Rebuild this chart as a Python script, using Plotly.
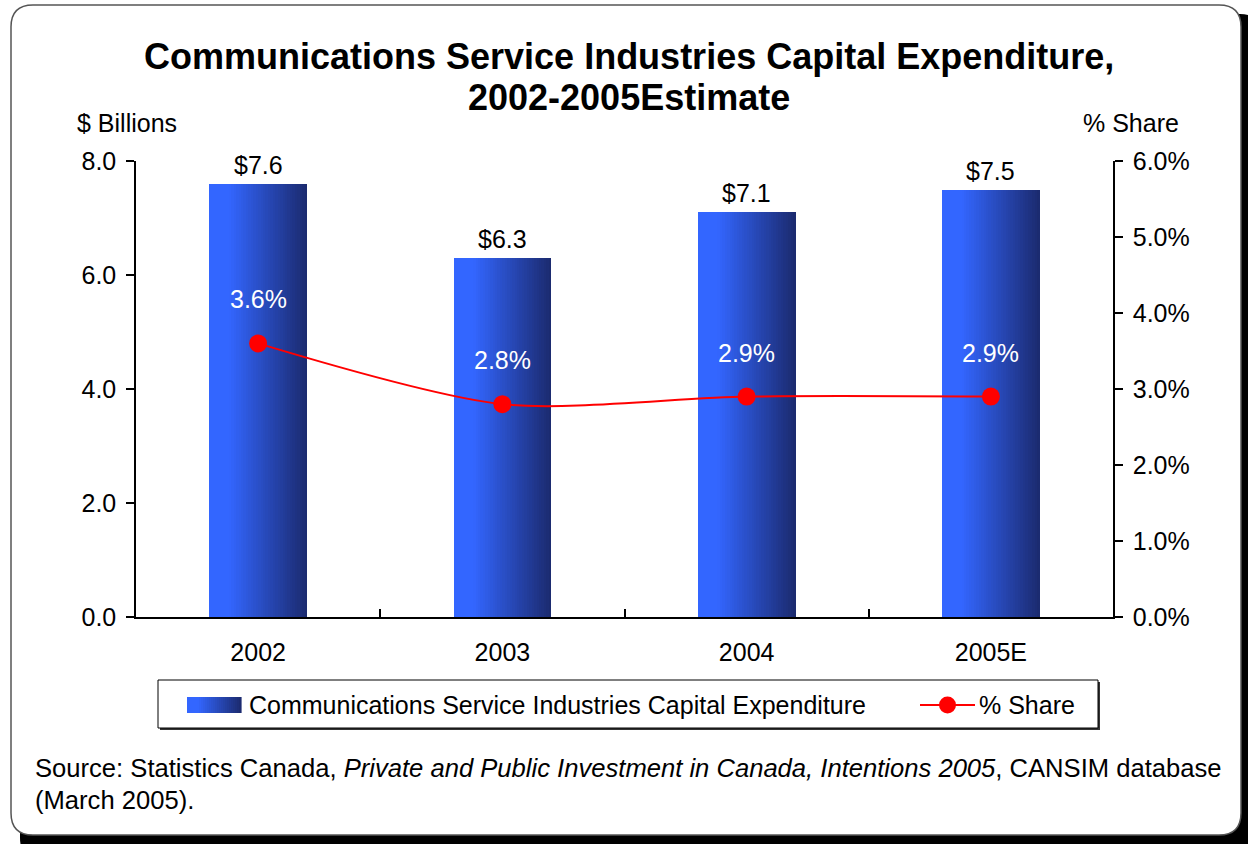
import plotly.graph_objects as go

# Chart data
years = ["2002", "2003", "2004", "2005E"]
capex_billions = [7.6, 6.3, 7.1, 7.5]
share_pct = [3.6, 2.8, 2.9, 2.9]

W, H = 1248, 844
FONT = "Arial, Liberation Sans, sans-serif"
FS = 25          # general text size
TITLE_FS = 36    # chart title size
NOTE_FS = 25.6   # source note size

# plot-area rectangle in pixels
PL, PR, PT, PB = 136, 1113, 161, 617


def px(x):
    return x / W


def py(y):
    return 1 - y / H


def rounded_rect(x0, y0, x1, y1, r):
    # SVG path in paper units (corners approximated with quadratic curves)
    pts = [
        f"M {px(x0 + r)} {py(y0)}",
        f"L {px(x1 - r)} {py(y0)}",
        f"Q {px(x1)} {py(y0)} {px(x1)} {py(y0 + r)}",
        f"L {px(x1)} {py(y1 - r)}",
        f"Q {px(x1)} {py(y1)} {px(x1 - r)} {py(y1)}",
        f"L {px(x0 + r)} {py(y1)}",
        f"Q {px(x0)} {py(y1)} {px(x0)} {py(y1 - r)}",
        f"L {px(x0)} {py(y0 + r)}",
        f"Q {px(x0)} {py(y0)} {px(x0 + r)} {py(y0)}",
        "Z",
    ]
    return " ".join(pts)


def lerp_color(c0, c1, t):
    return "rgb({},{},{})".format(*[round(a + (b - a) * t) for a, b in zip(c0, c1)])


LIGHT = (51, 102, 255)
DARK = (27, 42, 110)


def grad_t(f):
    # bright on the left fifth, then darkening towards the right edge
    return 0.0 if f < 0.2 else (f - 0.2) / 0.8


fig = go.Figure()

# Bars with a horizontal gradient, built from narrow vertical slices
BAR_W = 0.4
N_SLICES = 40
sw = BAR_W / N_SLICES
for i in range(N_SLICES):
    f = (i + 0.5) / N_SLICES
    fig.add_trace(go.Bar(
        x=years, y=capex_billions,
        width=sw * 1.08, offset=-BAR_W / 2 + i * sw,
        marker=dict(color=lerp_color(LIGHT, DARK, grad_t(f)), line=dict(width=0)),
        showlegend=False, hoverinfo="skip",
    ))

# % share line
fig.add_trace(go.Scatter(
    x=years, y=share_pct, yaxis="y2",
    mode="lines+markers",
    line=dict(color="#FF0000", width=2, shape="spline", smoothing=0.8),
    marker=dict(color="#FF0000", size=18),
    showlegend=False,
))

annotations = []
# value labels (category index used as x position)
for i, v in enumerate(capex_billions):
    annotations.append(dict(
        x=i, y=v, xref="x", yref="y", text=f"${v:.1f}", showarrow=False,
        yshift=19, font=dict(family=FONT, size=FS, color="black"),
    ))
for i, v in enumerate(share_pct):
    annotations.append(dict(
        x=i, y=v, xref="x", yref="y2", text=f"{v:.1f}%", showarrow=False,
        yshift=44, font=dict(family=FONT, size=FS, color="white"),
    ))

# title
annotations.append(dict(
    x=px(629), y=py(56), xref="paper", yref="paper", showarrow=False,
    text="<b>Communications Service Industries Capital Expenditure,</b>",
    font=dict(family=FONT, size=TITLE_FS, color="black"), xanchor="center", yanchor="middle",
))
annotations.append(dict(
    x=px(629), y=py(97), xref="paper", yref="paper", showarrow=False,
    text="<b>2002-2005Estimate</b>",
    font=dict(family=FONT, size=TITLE_FS, color="black"), xanchor="center", yanchor="middle",
))
# axis unit labels
annotations.append(dict(
    x=px(75), y=py(123), xref="paper", yref="paper", showarrow=False,
    text="$ Billions", font=dict(family=FONT, size=FS, color="black"),
    xanchor="left", yanchor="middle",
))
annotations.append(dict(
    x=px(1181), y=py(123), xref="paper", yref="paper", showarrow=False,
    text="% Share", font=dict(family=FONT, size=FS, color="black"),
    xanchor="right", yanchor="middle",
))
# source note
annotations.append(dict(
    x=px(33), y=py(768), xref="paper", yref="paper", showarrow=False,
    text="Source: Statistics Canada, <i>Private and Public Investment in Canada, Intentions 2005</i>, CANSIM database",
    font=dict(family=FONT, size=NOTE_FS, color="black"), xanchor="left", yanchor="middle",
))
annotations.append(dict(
    x=px(33), y=py(800), xref="paper", yref="paper", showarrow=False,
    text="(March 2005).",
    font=dict(family=FONT, size=NOTE_FS, color="black"), xanchor="left", yanchor="middle",
))
# legend labels
annotations.append(dict(
    x=px(247), y=py(705), xref="paper", yref="paper", showarrow=False,
    text="Communications Service Industries Capital Expenditure",
    font=dict(family=FONT, size=FS, color="black"), xanchor="left", yanchor="middle",
))
annotations.append(dict(
    x=px(977), y=py(705), xref="paper", yref="paper", showarrow=False,
    text="% Share",
    font=dict(family=FONT, size=FS, color="black"), xanchor="left", yanchor="middle",
))

shapes = []
# drop shadow and frame
shapes.append(dict(type="path", path=rounded_rect(20, 14, 1262, 860, 22), xref="paper", yref="paper",
                   fillcolor="black", line=dict(width=0), layer="below"))
shapes.append(dict(type="path", path=rounded_rect(11, 5, 1241, 835, 22), xref="paper", yref="paper",
                   fillcolor="white", line=dict(color="#555555", width=1.5), layer="below"))
# legend box with shadow
shapes.append(dict(type="rect", x0=px(160), x1=px(1100), y0=py(682), y1=py(730), xref="paper", yref="paper",
                   fillcolor="#333333", line=dict(width=0), layer="below"))
shapes.append(dict(type="rect", x0=px(158), x1=px(1098), y0=py(680), y1=py(728), xref="paper", yref="paper",
                   fillcolor="white", line=dict(color="black", width=1), layer="below"))
# legend gradient swatch
SW_X0, SW_X1 = 187, 241
n_sw = 27
for i in range(n_sw):
    f = (i + 0.5) / n_sw
    a = SW_X0 + (SW_X1 - SW_X0) * i / n_sw
    b = SW_X0 + (SW_X1 - SW_X0) * (i + 1) / n_sw + 0.6
    shapes.append(dict(type="rect", x0=px(a), x1=px(b), y0=py(697), y1=py(713), xref="paper", yref="paper",
                       fillcolor=lerp_color(LIGHT, DARK, grad_t(f)), line=dict(width=0)))
# legend line + marker
shapes.append(dict(type="line", x0=px(920), x1=px(975), y0=py(705), y1=py(705), xref="paper", yref="paper",
                   line=dict(color="#FF0000", width=2)))
shapes.append(dict(type="circle", x0=px(939), x1=px(956), y0=py(696.5), y1=py(713.5), xref="paper", yref="paper",
                   fillcolor="#FF0000", line=dict(width=0)))

fig.update_layout(
    width=W, height=H,
    margin=dict(l=0, r=0, t=0, b=0, autoexpand=False),
    paper_bgcolor="white", plot_bgcolor="rgba(0,0,0,0)",
    barmode="overlay", bargap=0,
    font=dict(family=FONT, size=FS, color="black"),
    showlegend=False,
    xaxis=dict(
        domain=[px(PL), px(PR)], type="category", range=[-0.5, 3.5],
        showline=True, linecolor="black", linewidth=1.5,
        ticks="inside", tickson="boundaries", ticklen=8, tickcolor="black", tickwidth=1.5,
        showgrid=False, zeroline=False, automargin=False,
        tickfont=dict(family=FONT, size=FS), ticklabelstandoff=12,
    ),
    yaxis=dict(
        domain=[py(PB), py(PT)], range=[0, 8], dtick=2, tickformat=".1f",
        showline=True, linecolor="black", linewidth=1.5,
        ticks="outside", ticklen=8, tickcolor="black", tickwidth=1.5,
        showgrid=False, zeroline=False, automargin=False,
        tickfont=dict(family=FONT, size=FS), ticklabelstandoff=5,
    ),
    yaxis2=dict(
        overlaying="y", side="right", anchor="x", range=[0, 6], dtick=1,
        tickformat=".1f", ticksuffix="%",
        showline=True, linecolor="black", linewidth=1.5,
        ticks="outside", ticklen=8, tickcolor="black", tickwidth=1.5,
        showgrid=False, zeroline=False, automargin=False,
        tickfont=dict(family=FONT, size=FS), ticklabelstandoff=5,
    ),
    annotations=annotations,
    shapes=shapes,
)

fig.write_html("out.html")
